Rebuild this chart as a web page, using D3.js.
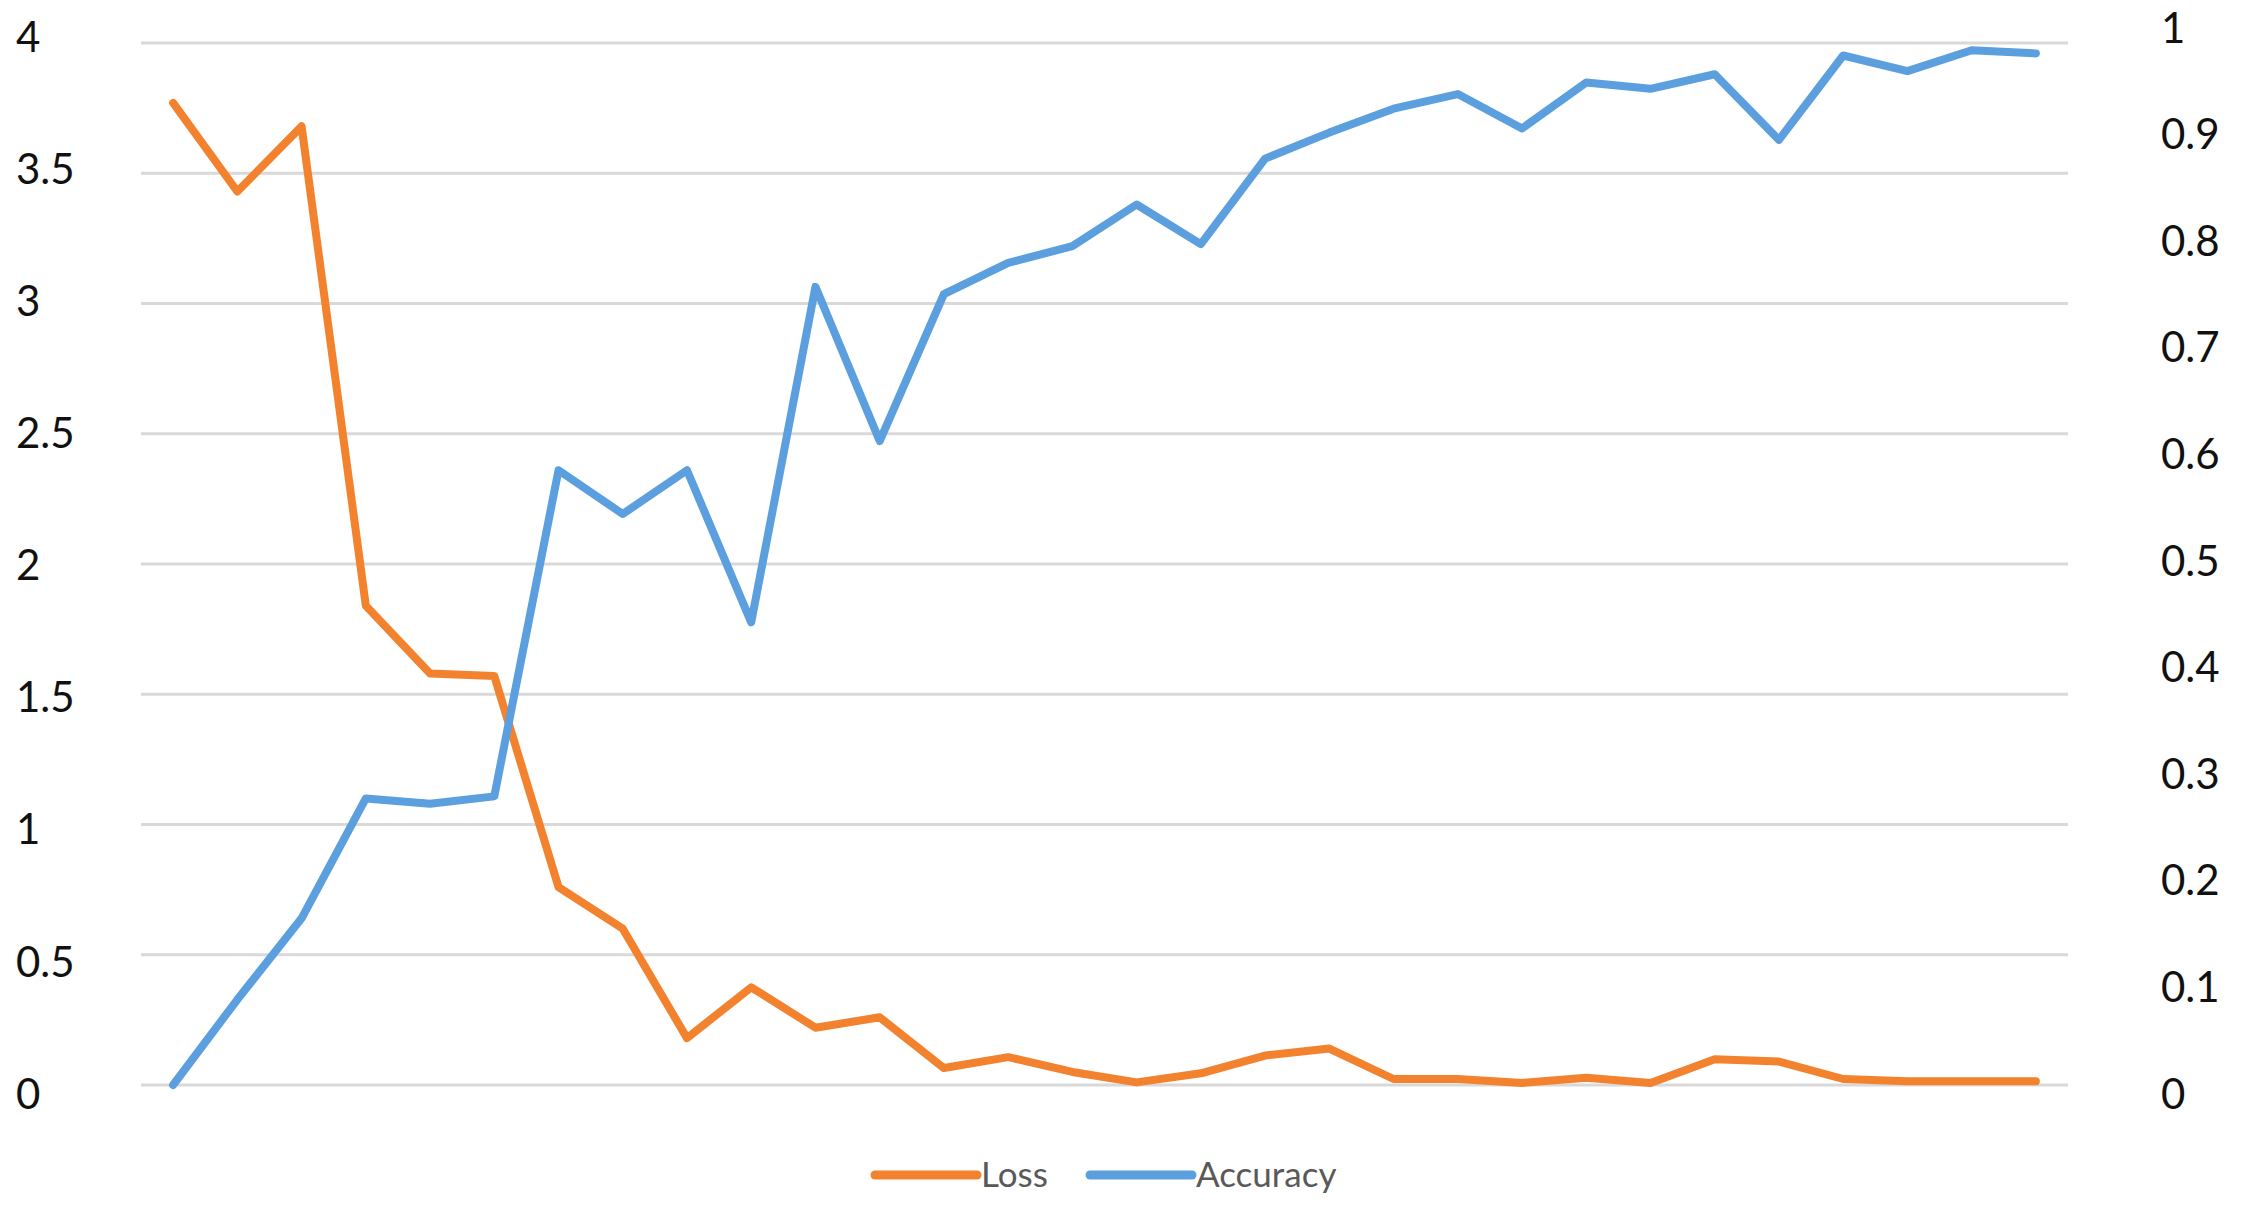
<!DOCTYPE html>
<html>
<head>
<meta charset="utf-8">
<script src="https://cdn.jsdelivr.net/npm/d3@7"></script>
<style>
  html, body { margin: 0; padding: 0; background: #ffffff; }
  svg { display: block; }
</style>
</head>
<body>
<svg id="chart" width="2242" height="1214"></svg>
<script>
// ---- data ----
const epochs = d3.range(1, 31);
const loss = [3.77, 3.43, 3.68, 1.84, 1.58, 1.57, 0.76, 0.60, 0.18, 0.375,
              0.22, 0.26, 0.065, 0.107, 0.05, 0.01, 0.045, 0.113, 0.14, 0.023,
              0.023, 0.008, 0.028, 0.008, 0.099, 0.09, 0.023, 0.014, 0.014, 0.014];
const accuracy = [0, 0.082, 0.16, 0.275, 0.27, 0.277, 0.59, 0.548, 0.59, 0.444,
                  0.766, 0.618, 0.759, 0.789, 0.805, 0.845, 0.807, 0.889, 0.914, 0.937,
                  0.951, 0.918, 0.962, 0.956, 0.970, 0.907, 0.988, 0.973, 0.993, 0.99];
const lossTicks = [0, 0.5, 1, 1.5, 2, 2.5, 3, 3.5, 4];
const accTicks = [0, 0.1, 0.2, 0.3, 0.4, 0.5, 0.6, 0.7, 0.8, 0.9, 1];
const seriesNames = ["Loss", "Accuracy"];
const seriesColors = ["#F3822F", "#5B9FDE"];

// ---- layout ----
const svg = d3.select("#chart");
const plot = { left: 141, right: 2068, top: 43, bottom: 1085 };

const x = d3.scalePoint().domain(epochs).range([plot.left, plot.right]).padding(0.5);
const yL = d3.scaleLinear().domain([0, 4]).range([plot.bottom, plot.top]);
const yR = d3.scaleLinear().domain([0, 1]).range([plot.bottom, plot.top]);
// label placement scales (tick labels in the reference sit on slightly wider spans)
const yLlab = d3.scaleLinear().domain([0, 4]).range([1093, 36]);
const yRlab = d3.scaleLinear().domain([0, 1]).range([1093, 27]);

// gridlines
svg.append("g")
  .selectAll("line")
  .data(lossTicks)
  .join("line")
  .attr("x1", plot.left).attr("x2", plot.right)
  .attr("y1", d => yL(d)).attr("y2", d => yL(d))
  .attr("stroke", "#d9d9d9").attr("stroke-width", 3);

// axes
const fmt = d => String(d);
const leftAxis = svg.append("g")
  .attr("transform", "translate(16,0)")
  .call(d3.axisRight(yLlab).tickValues(lossTicks).tickSize(0).tickPadding(0).tickFormat(fmt));
const rightAxis = svg.append("g")
  .attr("transform", "translate(2161,0)")
  .call(d3.axisRight(yRlab).tickValues(accTicks).tickSize(0).tickPadding(0).tickFormat(fmt));
[leftAxis, rightAxis].forEach(g => {
  g.select(".domain").remove();
  g.selectAll("text")
    .attr("text-anchor", "start")
    .attr("dy", "0.36em")
    .attr("font-family", "Lato, 'Liberation Sans', sans-serif")
    .attr("font-size", 42)
    .attr("fill", "#111111");
});

// lines
const lossLine = d3.line().x((d, i) => x(epochs[i])).y(d => yL(d));
const accLine = d3.line().x((d, i) => x(epochs[i])).y(d => yR(d));

svg.append("path")
  .datum(loss)
  .attr("d", lossLine)
  .attr("fill", "none")
  .attr("stroke", seriesColors[0])
  .attr("stroke-width", 8)
  .attr("stroke-linejoin", "round")
  .attr("stroke-linecap", "round");

svg.append("path")
  .datum(accuracy)
  .attr("d", accLine)
  .attr("fill", "none")
  .attr("stroke", seriesColors[1])
  .attr("stroke-width", 8)
  .attr("stroke-linejoin", "round")
  .attr("stroke-linecap", "round");

// legend
const legendX = [875, 1090];
const legend = svg.append("g");
seriesNames.forEach((name, i) => {
  const g = legend.append("g").attr("transform", `translate(${legendX[i]},1175)`);
  g.append("line")
    .attr("x1", 0).attr("x2", 102).attr("y1", 0).attr("y2", 0)
    .attr("stroke", seriesColors[i]).attr("stroke-width", 9)
    .attr("stroke-linecap", "round");
  g.append("text")
    .attr("x", 106).attr("y", 12)
    .attr("font-family", "Lato, 'Liberation Sans', sans-serif")
    .attr("font-size", 35)
    .attr("fill", "#595959")
    .text(name);
});
</script>
</body>
</html>
